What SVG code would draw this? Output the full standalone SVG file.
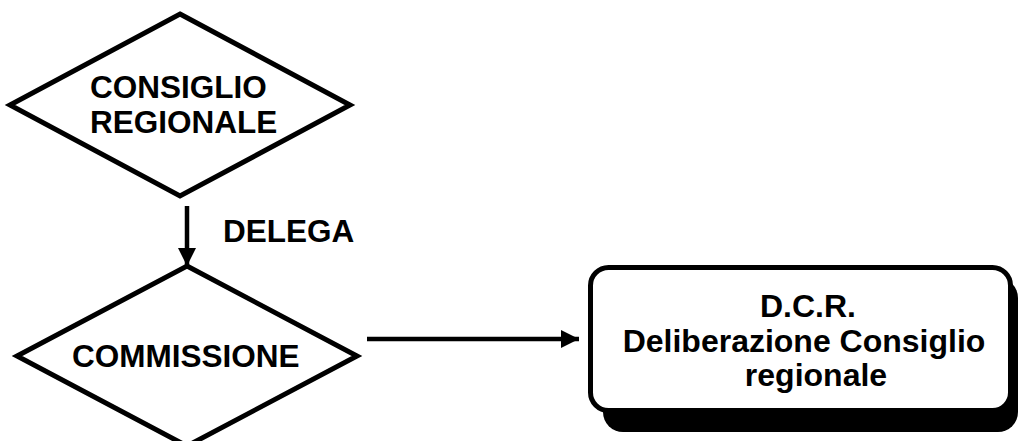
<svg xmlns="http://www.w3.org/2000/svg" width="1023" height="441" viewBox="0 0 1023 441">
  <defs>
    <style>
      .shape { fill: #ffffff; stroke: #000000; stroke-width: 5; stroke-linejoin: miter; }
      .label { font-family: "Liberation Sans", Arial, sans-serif; font-weight: bold; font-size: 31.5px; fill: #000000; }
      .mid { text-anchor: middle; }
      .wire { stroke: #000000; stroke-width: 4.5; fill: none; }
    </style>
    <marker id="arrow" viewBox="0 0 18 18" refX="18" refY="9" markerWidth="18" markerHeight="18" markerUnits="userSpaceOnUse" orient="auto">
      <path d="M0,0 L18,9 L0,18 Z" fill="#000000"/>
    </marker>
  </defs>

  <rect width="1023" height="441" fill="#ffffff"/>

  <!-- decision: regional council -->
  <g id="consiglio-regionale">
    <polygon class="shape" points="180,14 350,105 180,196 10,105"/>
    <text class="label" x="90" y="98">CONSIGLIO</text>
    <text class="label" x="90" y="133">REGIONALE</text>
  </g>

  <!-- decision: commission -->
  <g id="commissione">
    <polygon class="shape" points="187,266 357,356 187,446 17,356"/>
    <text class="label" x="72" y="367">COMMISSIONE</text>
  </g>

  <!-- result: council resolution, with drop shadow -->
  <g id="dcr">
    <rect x="603" y="278" width="415" height="154" rx="20" ry="20" fill="#000000"/>
    <rect x="590.5" y="267.5" width="420" height="143" rx="18" ry="18" fill="#ffffff" stroke="#000000" stroke-width="5"/>
    <text class="label mid" x="808" y="317" style="font-size:32px">D.C.R.</text>
    <text class="label mid" x="804" y="352" style="font-size:32px">Deliberazione Consiglio</text>
    <text class="label mid" x="816" y="386" style="font-size:32px">regionale</text>
  </g>

  <!-- connectors -->
  <g id="connectors">
    <line class="wire" x1="187" y1="206" x2="187" y2="266" marker-end="url(#arrow)"/>
    <text class="label" x="223" y="242">DELEGA</text>
    <line class="wire" x1="367" y1="339" x2="579" y2="339" marker-end="url(#arrow)"/>
  </g>
</svg>
